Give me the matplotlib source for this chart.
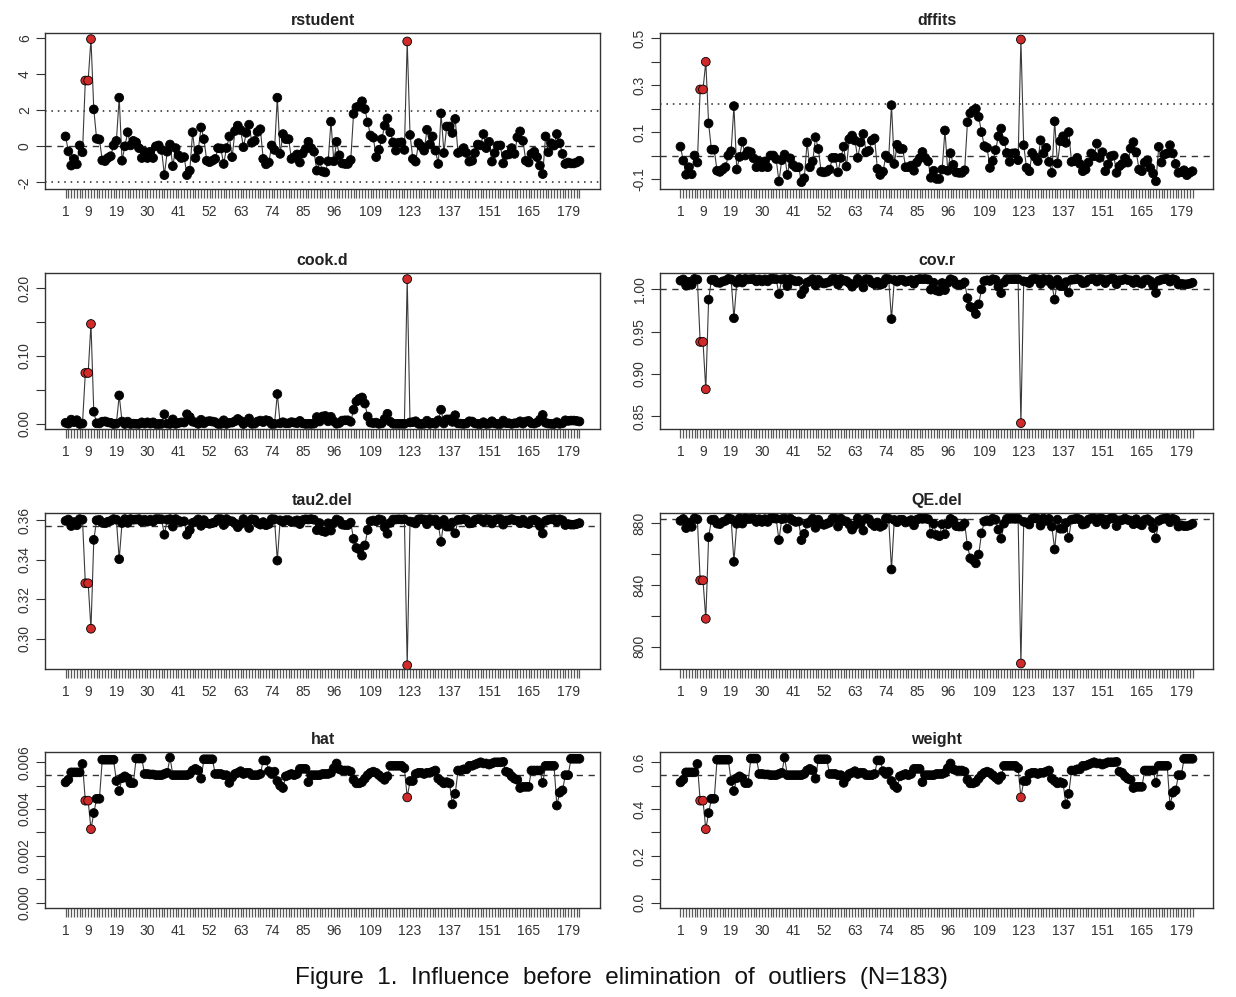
import matplotlib
matplotlib.use("Agg")
import matplotlib.pyplot as plt
import numpy as np

plt.rcParams['font.family'] = ['Liberation Sans', 'DejaVu Sans']

# study index 1..183
study = list(range(1, 184))
influential = [8, 9, 10, 122]
xlabels_at = [1, 9, 19, 30, 41, 52, 63, 74, 85, 96, 109, 123, 137, 151, 165, 179]

rstudent = [
    0.55, -0.28, -1.07, -0.7, -1.0, 0.05, -0.33, 3.65, 3.65, 5.95,
    2.05, 0.42, 0.38, -0.78, -0.82, -0.65, -0.55, 0.05, 0.3, 2.7,
    -0.8, 0.0, 0.78, 0.05, 0.3, 0.22, -0.1, -0.65, -0.3, -0.65,
    -0.3, -0.65, 0.0, 0.05, -0.2, -1.6, -0.3, 0.1, -1.1, -0.1,
    -0.5, -0.65, -0.6, -1.6, -1.35, 0.78, -0.65, -0.2, 1.05, 0.4,
    -0.8, -0.88, -0.8, -0.7, -0.1, -0.12, -0.98, -0.1, 0.55, -0.6,
    0.85, 1.15, 0.9, -0.05, 0.75, 1.2, 0.2, 0.3, 0.8, 0.95,
    -0.7, -1.0, -0.9, 0.05, -0.2, 2.7, -0.42, 0.68, 0.4, 0.4,
    -0.7, -0.6, -0.45, -0.9, -0.4, -0.15, 0.25, -0.1, -0.3, -1.35,
    -0.8, -1.4, -1.45, -0.83, 1.37, -0.83, 0.25, -0.5, -0.95, -0.98,
    -0.98, -0.76, 1.8, 2.17, 2.22, 2.5, 2.07, 1.33, 0.6, 0.48,
    -0.6, -0.2, 0.4, 1.15, 1.55, 0.78, 0.22, -0.24, 0.2, 0.22,
    -0.2, 5.82, 0.63, -0.7, -0.85, 0.18, 0.0, -0.24, 0.92, 0.1,
    0.55, -0.24, -0.98, 1.83, -0.37, 1.1, 1.1, 0.74, 1.52, -0.37,
    -0.3, -0.1, -0.37, -0.85, -0.8, -0.37, 0.1, 0.05, 0.68, -0.1,
    0.25, -0.85, -0.37, 0.04, 0.05, -0.95, -0.48, -0.45, -0.1, -0.42,
    0.5, 0.83, 0.3, -0.8, -0.9, -0.42, -0.3, -0.6, -1.07, -1.54,
    0.55, -0.33, 0.17, 0.04, 0.68, 0.17, -0.42, -0.98, -0.9, -0.95,
    -0.95, -0.9, -0.8,
]

dffits = [
    0.038, -0.022, -0.082, -0.05, -0.08, 0.0, -0.03, 0.282, 0.282, 0.40,
    0.137, 0.025, 0.025, -0.065, -0.07, -0.06, -0.05, 0.0, 0.018, 0.211,
    -0.06, -0.006, 0.059, 0.0, 0.018, 0.014, -0.012, -0.05, -0.025, -0.05,
    -0.025, -0.05, 0.0, 0.0, -0.015, -0.111, -0.02, 0.004, -0.083, -0.012,
    -0.04, -0.05, -0.05, -0.114, -0.097, 0.056, -0.05, -0.025, 0.078, 0.028,
    -0.069, -0.072, -0.069, -0.06, -0.01, -0.01, -0.072, -0.01, 0.038, -0.047,
    0.07, 0.085, 0.064, -0.01, 0.056, 0.092, 0.014, 0.02, 0.064, 0.073,
    -0.057, -0.083, -0.069, 0.0, -0.012, 0.215, -0.036, 0.046, 0.028, 0.028,
    -0.05, -0.05, -0.043, -0.065, -0.03, -0.012, 0.015, -0.01, -0.025, -0.095,
    -0.065, -0.1, -0.1, -0.06, 0.107, -0.065, 0.01, -0.04, -0.072, -0.074,
    -0.074, -0.063, 0.142, 0.18, 0.192, 0.2, 0.165, 0.1, 0.04, 0.033,
    -0.053, -0.024, 0.023, 0.082, 0.115, 0.061, 0.011, -0.027, 0.009, 0.01,
    -0.02, 0.495, 0.044, -0.053, -0.067, 0.011, -0.006, -0.024, 0.065, 0.009,
    0.033, -0.027, -0.074, 0.146, -0.034, 0.061, 0.082, 0.054, 0.1, -0.027,
    -0.024, -0.01, -0.036, -0.067, -0.06, -0.03, 0.009, -0.003, 0.051, -0.01,
    0.014, -0.067, -0.038, -0.003, 0.0, -0.074, -0.046, -0.036, -0.01, -0.03,
    0.03, 0.057, 0.014, -0.06, -0.067, -0.03, -0.02, -0.053, -0.077, -0.11,
    0.037, -0.03, 0.004, 0.009, 0.044, 0.009, -0.036, -0.074, -0.071, -0.063,
    -0.084, -0.074, -0.067,
]

cook_d = [
    0.0017, 0.0004, 0.0064, 0.0027, 0.0056, 0.0, 0.0006, 0.075, 0.075, 0.147,
    0.018, 0.001, 0.0008, 0.0034, 0.0038, 0.0024, 0.0017, 0.0, 0.0005, 0.042,
    0.0036, 0.0, 0.0034, 0.0, 0.0005, 0.0003, 0.0001, 0.0024, 0.0005, 0.0024,
    0.0005, 0.0024, 0.0, 0.0, 0.0002, 0.0143, 0.0005, 0.0001, 0.0068, 0.0001,
    0.0014, 0.0024, 0.002, 0.0143, 0.0102, 0.0034, 0.0024, 0.0002, 0.0062, 0.0009,
    0.0036, 0.0043, 0.0036, 0.0027, 0.0001, 0.0001, 0.0054, 0.0001, 0.0017, 0.002,
    0.004, 0.0074, 0.0045, 0.0, 0.0031, 0.0081, 0.0002, 0.0005, 0.0036, 0.005,
    0.0027, 0.0056, 0.0045, 0.0, 0.0002, 0.044, 0.001, 0.0026, 0.0009, 0.0009,
    0.0027, 0.002, 0.0011, 0.0045, 0.0009, 0.0001, 0.0003, 0.0001, 0.0005, 0.0102,
    0.0036, 0.011, 0.0118, 0.0039, 0.0105, 0.0039, 0.0003, 0.0014, 0.005, 0.0054,
    0.0054, 0.0032, 0.021, 0.033, 0.037, 0.039, 0.030, 0.011, 0.002, 0.0013,
    0.002, 0.0002, 0.0009, 0.0074, 0.015, 0.0034, 0.0003, 0.0003, 0.0002, 0.0003,
    0.0002, 0.213, 0.0022, 0.0027, 0.004, 0.0002, 0.0, 0.0003, 0.0048, 0.0001,
    0.0017, 0.0003, 0.0054, 0.021, 0.0008, 0.0068, 0.0068, 0.0031, 0.0129, 0.0008,
    0.0005, 0.0001, 0.0008, 0.004, 0.0036, 0.0008, 0.0001, 0.0, 0.0026, 0.0001,
    0.0003, 0.004, 0.0008, 0.0, 0.0, 0.005, 0.0013, 0.0011, 0.0001, 0.001,
    0.0014, 0.0039, 0.0005, 0.0036, 0.0045, 0.001, 0.0005, 0.002, 0.0064, 0.0133,
    0.0017, 0.0006, 0.0002, 0.0, 0.0026, 0.0002, 0.001, 0.0054, 0.0045, 0.005,
    0.005, 0.0045, 0.0036,
]

cov_r = [
    1.0104, 1.0119, 1.0045, 1.0091, 1.0055, 1.0125, 1.0117, 0.938, 0.938, 0.882,
    0.988, 1.0112, 1.0115, 1.0082, 1.0078, 1.0096, 1.0104, 1.0125, 1.0119, 0.966,
    1.008, 1.0125, 1.0082, 1.0125, 1.0119, 1.0122, 1.0124, 1.0096, 1.0119, 1.0096,
    1.0119, 1.0096, 1.0125, 1.0125, 1.0122, 0.9946, 1.0119, 1.0124, 1.004, 1.0124,
    1.0108, 1.0096, 1.01, 0.9946, 0.9998, 1.0082, 1.0096, 1.0122, 1.0048, 1.0114,
    1.008, 1.0071, 1.008, 1.0091, 1.0124, 1.0124, 1.0058, 1.0124, 1.0104, 1.01,
    1.0075, 1.0033, 1.0068, 1.0125, 1.0086, 1.0024, 1.0122, 1.0119, 1.008, 1.0062,
    1.0091, 1.0055, 1.0068, 1.0125, 1.0122, 0.965, 1.0112, 1.0093, 1.0114, 1.0114,
    1.0091, 1.01, 1.0111, 1.0068, 1.0114, 1.0124, 1.0121, 1.0124, 1.0119, 0.9998,
    1.008, 0.9988, 0.9978, 1.0077, 0.9993, 1.0077, 1.0121, 1.0108, 1.0062, 1.0058,
    1.0058, 1.0084, 0.9898, 0.9795, 0.978, 0.971, 0.9825, 1.0001, 1.01, 1.0109,
    1.01, 1.0122, 1.0114, 1.0033, 0.9957, 1.0082, 1.0122, 1.0121, 1.0122, 1.0122,
    1.0122, 0.842, 1.0097, 1.0091, 1.0075, 1.0123, 1.0125, 1.0121, 1.0066, 1.0124,
    1.0104, 1.0121, 1.0058, 0.988, 1.0115, 1.004, 1.004, 1.0087, 0.9963, 1.0115,
    1.0119, 1.0124, 1.0115, 1.0075, 1.008, 1.0115, 1.0124, 1.0125, 1.0093, 1.0124,
    1.0121, 1.0075, 1.0115, 1.0125, 1.0125, 1.0062, 1.0109, 1.0111, 1.0124, 1.0112,
    1.0108, 1.0077, 1.0119, 1.008, 1.0068, 1.0112, 1.0119, 1.01, 1.0045, 0.9959,
    1.0104, 1.0117, 1.0123, 1.0125, 1.0093, 1.0123, 1.0112, 1.0058, 1.0068, 1.0062,
    1.0062, 1.0068, 1.008,
]

tau2_del = [
    0.3596, 0.3603, 0.357, 0.359, 0.3574, 0.3605, 0.3602, 0.328, 0.328, 0.305,
    0.350, 0.3599, 0.3601, 0.3586, 0.3584, 0.3592, 0.3596, 0.3605, 0.3602, 0.3402,
    0.3585, 0.3605, 0.3586, 0.3605, 0.3602, 0.3603, 0.3605, 0.3592, 0.3602, 0.3592,
    0.3602, 0.3592, 0.3605, 0.3605, 0.3604, 0.3526, 0.3602, 0.3605, 0.3567, 0.3605,
    0.3597, 0.3592, 0.3594, 0.3526, 0.3549, 0.3586, 0.3592, 0.3604, 0.3571, 0.36,
    0.3585, 0.3581, 0.3585, 0.359, 0.3605, 0.3605, 0.3575, 0.3605, 0.3596, 0.3594,
    0.3583, 0.3564, 0.358, 0.3605, 0.3588, 0.356, 0.3604, 0.3602, 0.3585, 0.3577,
    0.359, 0.3574, 0.358, 0.3605, 0.3604, 0.3395, 0.3599, 0.3591, 0.36, 0.36,
    0.359, 0.3594, 0.3599, 0.358, 0.36, 0.3604, 0.3603, 0.3605, 0.3602, 0.3549,
    0.3585, 0.3544, 0.354, 0.3584, 0.3547, 0.3584, 0.3603, 0.3597, 0.3577, 0.3575,
    0.3575, 0.3587, 0.3505, 0.3459, 0.3452, 0.342, 0.3472, 0.355, 0.3594, 0.3598,
    0.3594, 0.3604, 0.36, 0.3564, 0.3531, 0.3586, 0.3603, 0.3603, 0.3604, 0.3603,
    0.3604, 0.2865, 0.3593, 0.359, 0.3583, 0.3604, 0.3605, 0.3603, 0.3579, 0.3605,
    0.3596, 0.3603, 0.3575, 0.349, 0.3601, 0.3567, 0.3567, 0.3588, 0.3533, 0.3601,
    0.3602, 0.3605, 0.3601, 0.3583, 0.3585, 0.3601, 0.3605, 0.3605, 0.3591, 0.3605,
    0.3603, 0.3583, 0.3601, 0.3605, 0.3605, 0.3577, 0.3598, 0.3599, 0.3605, 0.3599,
    0.3597, 0.3584, 0.3602, 0.3585, 0.358, 0.3599, 0.3602, 0.3594, 0.357, 0.3532,
    0.3596, 0.3602, 0.3604, 0.3605, 0.3591, 0.3604, 0.3599, 0.3575, 0.358, 0.3577,
    0.3577, 0.358, 0.3585,
]

qe_del = [
    881.6, 882.8, 876.9, 880.5, 877.7, 883.2, 882.6, 843.0, 843.0, 818.0,
    871.0, 882.2, 882.4, 879.8, 879.5, 880.9, 881.6, 883.2, 882.7, 855.0,
    879.7, 883.2, 879.8, 883.2, 882.7, 882.9, 883.1, 880.9, 882.7, 880.9,
    882.7, 880.9, 883.2, 883.2, 883.0, 869.1, 882.7, 883.1, 876.5, 883.1,
    881.8, 880.9, 881.2, 869.1, 873.2, 879.8, 880.9, 883.0, 877.1, 882.3,
    879.7, 879.0, 879.7, 880.5, 883.1, 883.1, 877.9, 883.1, 881.6, 881.2,
    879.2, 875.9, 878.7, 883.2, 880.1, 875.3, 883.0, 882.7, 879.7, 878.2,
    880.5, 877.7, 878.7, 883.2, 883.0, 850.0, 882.2, 880.7, 882.3, 882.3,
    880.5, 881.2, 882.1, 878.7, 882.3, 883.1, 882.9, 883.1, 882.7, 873.2,
    879.7, 872.4, 871.6, 879.4, 872.9, 879.4, 882.9, 881.8, 878.2, 877.9,
    877.9, 880.0, 865.4, 857.3, 856.1, 854.0, 859.7, 873.5, 881.2, 881.9,
    881.2, 883.0, 882.3, 875.9, 870.0, 879.8, 882.9, 882.9, 883.0, 882.9,
    883.0, 789.0, 881.0, 880.5, 879.2, 883.0, 883.2, 882.9, 878.5, 883.1,
    881.6, 882.9, 877.9, 863.0, 882.4, 876.5, 876.5, 880.2, 870.5, 882.4,
    882.7, 883.1, 882.4, 879.2, 879.7, 882.4, 883.1, 883.2, 880.7, 883.1,
    882.9, 879.2, 882.4, 883.2, 883.2, 878.2, 881.9, 882.1, 883.1, 882.2,
    881.8, 879.4, 882.7, 879.7, 878.7, 882.2, 882.7, 881.2, 876.9, 870.2,
    881.6, 882.6, 883.0, 883.2, 880.7, 883.0, 882.2, 877.9, 878.7, 878.2,
    878.2, 878.7, 879.7,
]

hat = [
    0.00514, 0.00526, 0.00557, 0.00557, 0.00557, 0.00557, 0.00593, 0.00436, 0.00436, 0.00314,
    0.00383, 0.00444, 0.00444, 0.00611, 0.00611, 0.00611, 0.00611, 0.00611, 0.0052, 0.00477,
    0.00532, 0.0054, 0.00532, 0.00511, 0.00511, 0.00616, 0.00616, 0.00616, 0.0055, 0.0055,
    0.00548, 0.00548, 0.00545, 0.00545, 0.00545, 0.0055, 0.00555, 0.0062, 0.00545, 0.00545,
    0.00545, 0.00545, 0.00545, 0.00545, 0.0055, 0.00565, 0.00572, 0.00565, 0.0053, 0.00613,
    0.00613, 0.00613, 0.00613, 0.0055, 0.0055, 0.0055, 0.00545, 0.00545, 0.00512, 0.00535,
    0.0055, 0.00555, 0.00562, 0.0055, 0.00555, 0.00555, 0.00545, 0.00545, 0.00545, 0.0055,
    0.00608, 0.00608, 0.00562, 0.0055, 0.0056, 0.0052, 0.005, 0.0049, 0.0054, 0.00545,
    0.0055, 0.00545, 0.0055, 0.00572, 0.00572, 0.00572, 0.00515, 0.00545, 0.00545, 0.00545,
    0.00545, 0.0055, 0.0055, 0.0055, 0.00555, 0.00575, 0.00595, 0.0057, 0.00565, 0.00565,
    0.00565, 0.0056, 0.00525, 0.0051, 0.0051, 0.00515, 0.0053, 0.00545, 0.00555, 0.0056,
    0.00555, 0.00545, 0.00535, 0.00525, 0.0054, 0.00585, 0.00585, 0.00585, 0.00585, 0.00585,
    0.00575, 0.0045, 0.0052, 0.0052, 0.0055, 0.00555, 0.00555, 0.0055, 0.00555, 0.00555,
    0.0056, 0.00565, 0.0053, 0.0052, 0.0051, 0.00515, 0.0051, 0.0042, 0.00465, 0.00565,
    0.00565, 0.0057, 0.0057, 0.00585, 0.00585, 0.0059, 0.00595, 0.006, 0.00595, 0.00595,
    0.0059, 0.00595, 0.006, 0.006, 0.006, 0.00602, 0.0056, 0.00555, 0.0054, 0.0053,
    0.00525, 0.0049, 0.00495, 0.00495, 0.00495, 0.00565, 0.00565, 0.00565, 0.00565, 0.00512,
    0.00585, 0.00585, 0.00585, 0.00585, 0.00415, 0.0047, 0.0048, 0.00545, 0.00545, 0.00615,
    0.00615, 0.00615, 0.00615,
]

weight = [
    0.514, 0.526, 0.557, 0.557, 0.557, 0.557, 0.593, 0.436, 0.436, 0.314,
    0.383, 0.444, 0.444, 0.611, 0.611, 0.611, 0.611, 0.611, 0.52, 0.477,
    0.532, 0.54, 0.532, 0.511, 0.511, 0.616, 0.616, 0.616, 0.55, 0.55,
    0.548, 0.548, 0.545, 0.545, 0.545, 0.55, 0.555, 0.62, 0.545, 0.545,
    0.545, 0.545, 0.545, 0.545, 0.55, 0.565, 0.572, 0.565, 0.53, 0.613,
    0.613, 0.613, 0.613, 0.55, 0.55, 0.55, 0.545, 0.545, 0.512, 0.535,
    0.55, 0.555, 0.562, 0.55, 0.555, 0.555, 0.545, 0.545, 0.545, 0.55,
    0.608, 0.608, 0.562, 0.55, 0.56, 0.52, 0.5, 0.49, 0.54, 0.545,
    0.55, 0.545, 0.55, 0.572, 0.572, 0.572, 0.515, 0.545, 0.545, 0.545,
    0.545, 0.55, 0.55, 0.55, 0.555, 0.575, 0.595, 0.57, 0.565, 0.565,
    0.565, 0.56, 0.525, 0.51, 0.51, 0.515, 0.53, 0.545, 0.555, 0.56,
    0.555, 0.545, 0.535, 0.525, 0.54, 0.585, 0.585, 0.585, 0.585, 0.585,
    0.575, 0.45, 0.52, 0.52, 0.55, 0.555, 0.555, 0.55, 0.555, 0.555,
    0.56, 0.565, 0.53, 0.52, 0.51, 0.515, 0.51, 0.42, 0.465, 0.565,
    0.565, 0.57, 0.57, 0.585, 0.585, 0.59, 0.595, 0.60, 0.595, 0.595,
    0.59, 0.595, 0.60, 0.60, 0.60, 0.602, 0.56, 0.555, 0.54, 0.53,
    0.525, 0.49, 0.495, 0.495, 0.495, 0.565, 0.565, 0.565, 0.565, 0.512,
    0.585, 0.585, 0.585, 0.585, 0.415, 0.47, 0.48, 0.545, 0.545, 0.615,
    0.615, 0.615, 0.615,
]

k_studies = len(study)

# panel settings: title, data, ylim, labelled ticks, unlabelled ticks, dotted, dashed
panels = [
    ("rstudent", rstudent, (-2.37, 6.29), ["-2", "0", "2", "4", "6"], [], [-1.96, 1.96], [0]),
    ("dffits", dffits, (-0.143, 0.523), ["-0.1", "0.1", "0.3", "0.5"], [0.0, 0.2, 0.4], [0.222], [0]),
    ("cook.d", cook_d, (-0.0074, 0.222), ["0.00", "0.10", "0.20"], [0.05, 0.15], [], []),
    ("cov.r", cov_r, (0.835, 1.0195), ["0.85", "0.90", "0.95", "1.00"], [], [], [1.0]),
    ("tau2.del", tau2_del, (0.2846, 0.3636), ["0.30", "0.32", "0.34", "0.36"], [], [], [0.357]),
    ("QE.del", qe_del, (785.4, 886.7), ["800", "840", "880"], [820, 860], [], [882.6]),
    ("hat", hat, (-0.00023, 0.00644), ["0.000", "0.002", "0.004", "0.006"], [0.001, 0.003, 0.005], [], [1 / k_studies]),
    ("weight", weight, (-0.023, 0.644), ["0.0", "0.2", "0.4", "0.6"], [0.1, 0.3, 0.5], [], [100 / k_studies]),
]

W, H = 1236, 997
fig = plt.figure(figsize=(W / 100, H / 100), dpi=100)

col_left = [45, 660]
col_width = [555, 553]
row_top = [33, 273, 513, 752]
box_h = 156

x = np.array(study)
colors = ['#d02a2a' if s in influential else 'black' for s in study]

for k, (title, vals, ylim, ylabs, yminor, dotted, dashed) in enumerate(panels):
    r, c = divmod(k, 2)
    ax = fig.add_axes([col_left[c] / W, 1 - (row_top[r] + box_h) / H,
                       col_width[c] / W, box_h / H])
    y = np.array(vals)
    ax.plot(x, y, '-', color='#3a3a3a', lw=0.8, zorder=2)
    ax.scatter(x, y, s=40, c=colors, edgecolors='black', linewidths=0.6, zorder=3)
    for v in dotted:
        ax.axhline(v, color='#222222', lw=1.1, linestyle=(0, (1, 3.2)), zorder=1)
    for v in dashed:
        ax.axhline(v, color='#333333', lw=1.0, linestyle=(0, (4.5, 4)), zorder=1)

    ax.set_xlim(1 - 0.04 * 182, 183 + 0.04 * 182)
    ax.set_ylim(*ylim)

    # x axis: a tick per study, labels where R had room for them
    ax.set_xticks(study)
    ax.set_xticklabels([str(s) if s in xlabels_at else '' for s in study])
    ax.tick_params(axis='x', length=6.5, width=0.9, color='#5a5a5a', pad=5,
                   labelsize=10, labelcolor='#333333')

    yt = [float(t) for t in ylabs]
    ax.set_yticks(yt + list(yminor))
    ax.set_yticklabels(ylabs + [''] * len(yminor), rotation=90, va='center')
    ax.tick_params(axis='y', length=6.5, width=0.8, color='#333333', pad=3,
                   labelsize=10, labelcolor='#333333')

    for sp in ax.spines.values():
        sp.set_linewidth(1.0)
        sp.set_color('#333333')

    ax.set_title(title, fontsize=11.5, fontweight='bold', color='#222222', pad=6)

fig.text(621 / W, 1 - 978 / H,
         "Figure  1.  Influence  before  elimination  of  outliers  (N=183)",
         ha='center', va='center', fontsize=17.5, color='#111111')

fig.savefig("out.png", dpi=100)
